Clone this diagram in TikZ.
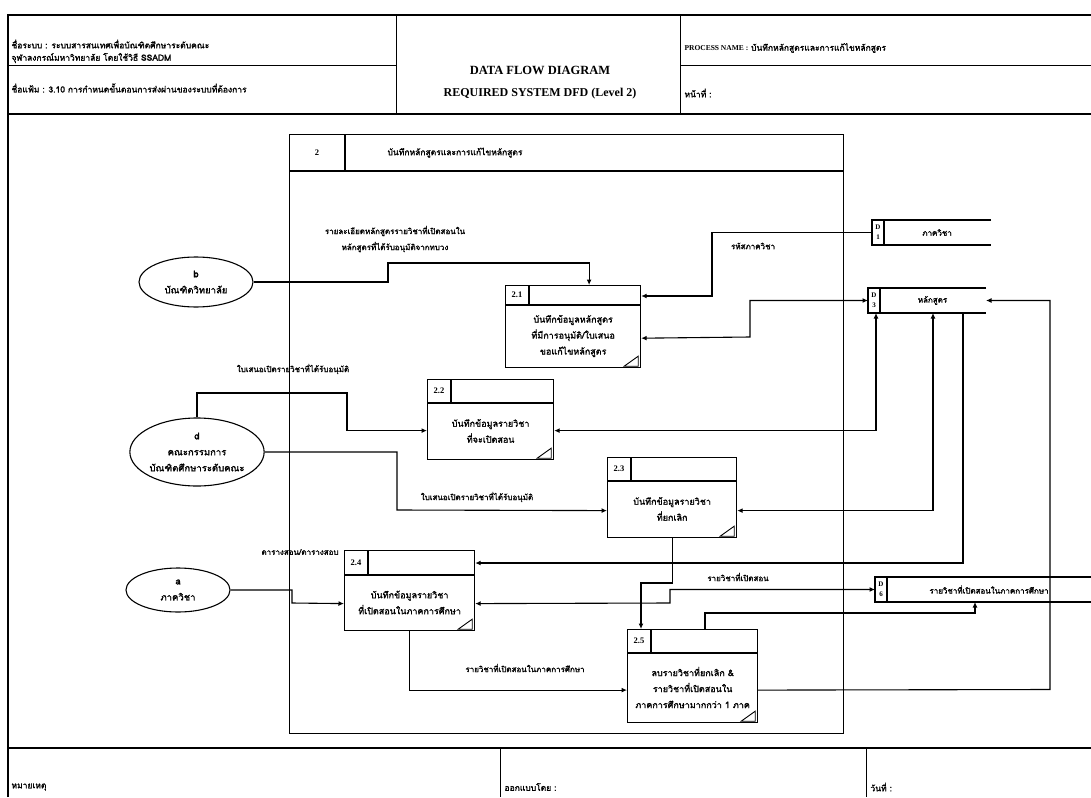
\documentclass[tikz,border=0pt]{standalone}
\usepackage{fontspec}
\setmainfont{Liberation Serif}
\newfontfamily\thaifont[Script=Thai, FakeBold=1.6]{Loma}
\usepackage{tikz}
\usetikzlibrary{calc}
\usetikzlibrary{shapes.geometric}
\usetikzlibrary{arrows.meta}

\tikzset{
  flow/.style = {line width = 1.1pt, -{Latex[length = 5.5pt, width = 5pt]}},
  flowboth/.style = {line width = 1.1pt, {Latex[length = 5.5pt, width = 5pt]}-{Latex[length = 5.5pt, width = 5pt]}},
  entity/.style = {draw, ellipse, line width = 1.1pt, inner sep = 0pt, align = center,
    font = \thaifont\fontsize{9.5}{16}\selectfont},
  procbox/.style = {draw, line width = 1.2pt, inner sep = 0pt, anchor = north west},
  lbl/.style = {font = \thaifont\fontsize{8}{16}\selectfont, inner sep = 1pt, align = center},
  ptext/.style = {font = \thaifont\fontsize{9}{16}\selectfont, inner sep = 0pt, align = center},
  pid/.style = {font = \bfseries\fontsize{8.5}{9}\selectfont, inner sep = 0pt},
  sid/.style = {font = \bfseries\fontsize{7}{7}\selectfont, inner sep = 0pt},
  hdr/.style = {font = \thaifont\fontsize{8.5}{9}\selectfont, inner sep = 0pt, anchor = west},
}

% process box: name, x, y, width, height, id, text, header height
\newcommand{\dfdproc}[8]{%
  \node[procbox, minimum width = #4pt, minimum height = #5pt] (#1) at (#2,#3) {};
  \draw[line width = 1.1pt] ($(#1.north west)+(0,#8)$) -- ($(#1.north east)+(0,#8)$);
  \draw[line width = 1.1pt] ($(#1.north west)+(24,0)$) -- ($(#1.north west)+(24,#8)$);
  \node[pid] (#1id) at ($(#1.north west)+(12,{#8/2})$) {#6};
  \node[ptext] (#1txt) at ($(#1.north)+(0,{(#5+#8)/2})$) {#7};
  \draw[line width = .9pt] ($(#1.south east)+(-17,-2)$) -- ($(#1.south east)+(-3,-12)$)
    -- ($(#1.south east)+(-3,-2)$) -- cycle;
}

% data store: name, x, y, width, number, text
\newcommand{\dfdstore}[6]{%
  \node[inner sep = 0pt, minimum width = #4pt, minimum height = 24pt, anchor = north west] (#1) at (#2,#3) {};
  \draw[line width = 1.2pt] (#1.north east) -- (#1.north west) -- (#1.south west) -- (#1.south east);
  \draw[line width = 1.1pt] ($(#1.north west)+(12,0)$) -- ($(#1.south west)+(12,0)$);
  \node[sid] (#1d) at ($(#1.north west)+(6,7)$) {D};
  \node[sid] (#1n) at ($(#1.north west)+(6,17.5)$) {#5};
  \node[lbl] (#1txt) at ($(#1.west)+({(#4+12)/2},0)$) {#6};
}

\begin{document}
\begin{tikzpicture}[x = 1pt, y = -1pt, line width = 1pt]
\useasboundingbox (0,0) rectangle (1091,797);

% frame
  \draw[line width = 1.4pt] (8,797) -- (8,15) -- (1091,15);
  \draw[line width = 1.4pt] (8,114) -- (1091,114);
  \draw (396,15) -- (396,114);
  \draw (680,15) -- (680,114);
  \draw (8,66) -- (396,66);
  \draw (680,66) -- (1091,66);
  \draw[line width = 1.4pt] (8,748) -- (1091,748);
  \draw (500,748) -- (500,797);
  \draw (866,748) -- (866,797);

% header
  \node[hdr] (sysname) at (11,44) {ชื่อระบบ : ระบบสารสนเทศเพื่อบัณฑิตศึกษาระดับคณะ};
  \node[hdr] (sysname2) at (11,58) {จุฬาลงกรณ์มหาวิทยาลัย โดยใช้วิธี SSADM};
  \node[hdr] (filename) at (11,88) {ชื่อแฟ้ม : 3.10 การกำหนดขั้นตอนการส่งผ่านของระบบที่ต้องการ};
  \node[font = \bfseries\fontsize{12.5}{14}\selectfont] (title) at (540,70) {DATA FLOW DIAGRAM};
  \node[font = \fontsize{12}{14}\selectfont] (subtitle) at (540,94) {\textbf{REQUIRED SYSTEM DFD (Level 2)}};
  \node[hdr] (procname) at (684,48) {{\rmfamily\bfseries\fontsize{7.5}{8}\selectfont PROCESS NAME :} บันทึกหลักสูตรและการแก้ไขหลักสูตร};
  \node[hdr] (page) at (684,93) {หน้าที่ :};
  \node[hdr] (remark) at (11,787) {หมายเหตุ};
  \node[hdr] (designer) at (504,787) {ออกแบบโดย :};
  \node[hdr] (date) at (870,787) {วันที่ :};

% process 2
  \node[procbox, minimum width = 554pt, minimum height = 599pt] (p2) at (289,134) {};
  \draw[line width = 1.1pt] ($(p2.north west)+(0,37)$) -- ($(p2.north east)+(0,37)$);
  \draw[line width = 1.1pt] ($(p2.north west)+(56,0)$) -- ($(p2.north west)+(56,37)$);
  \node[pid] (p2id) at ($(p2.north west)+(28,18.5)$) {2};
  \node[lbl, font = \thaifont\fontsize{8.5}{10}\selectfont] (p2name) at (455,152.5) {บันทึกหลักสูตรและการแก้ไขหลักสูตร};

% sub processes
  \dfdproc{p21}{505}{285}{135}{82}{2.1}{บันทึกข้อมูลหลักสูตร\\ที่มีการอนุมัติ/ใบเสนอ\\ขอแก้ไขหลักสูตร}{20}
  \dfdproc{p22}{427}{379}{126}{80}{2.2}{บันทึกข้อมูลรายวิชา\\ที่จะเปิดสอน}{24}
  \dfdproc{p23}{607}{457}{129}{80}{2.3}{บันทึกข้อมูลรายวิชา\\ที่ยกเลิก}{24}
  \dfdproc{p24}{344}{550}{130}{80}{2.4}{บันทึกข้อมูลรายวิชา\\ที่เปิดสอนในภาคการศึกษา}{25}
  \dfdproc{p25}{627}{629}{130}{93}{2.5}{ลบรายวิชาที่ยกเลิก \&\\รายวิชาที่เปิดสอนใน\\ภาคการศึกษามากกว่า 1 ภาค}{24}

% external entities
  \node[entity, minimum width = 114pt, minimum height = 50pt] (b) at (196,282) {b\\บัณฑิตวิทยาลัย};
  \node[entity, minimum width = 122pt, minimum height = 68pt] (d) at (197,452) {d\\คณะกรรมการ\\บัณฑิตศึกษาระดับคณะ};
  \node[entity, minimum width = 104pt, minimum height = 44pt] (a) at (178,590) {a\\ภาควิชา};

% data stores
  \dfdstore{d1}{872}{220}{118}{1}{ภาควิชา}
  \dfdstore{d3}{868}{288}{117}{3}{หลักสูตร}
  \dfdstore{d6}{875}{577}{216}{6}{รายวิชาที่เปิดสอนในภาคการศึกษา}

% flows
  \draw[flow] (b.east) -- (388,282) -- (388,263) -| ($(p21.north)+(16,0)$);
  \node[lbl] (f1) at (395,239) {รายละเอียดหลักสูตรรายวิชาที่เปิดสอนใน\\หลักสูตรที่ได้รับอนุมัติจากทบวง};
  \draw[flow] (d1.west) -| (712,296) -- ($(p21.north east)+(0,11)$);
  \node[lbl] (f2) at (753,246) {รหัสภาควิชา};
  \draw[flowboth] ($(p21.south east)+(0,-30)$) -- (750,337) |- (d3.west);
  \draw[flowboth] ($(d3.south west)+(8,0)$) |- ($(p22.east)+(0,11)$);
  \draw[flowboth] ($(d3.south west)+(65,0)$) |- ($(p23.east)+(0,13)$);
  \draw[flow] ($(d3.south west)+(95,0)$) |- ($(p24.north east)+(0,13)$);
  \draw[flow] ($(p25.east)+(0,14)$) -- (1050,689.5) |- (d3.east);

  \draw[flow] (d.north) |- (347,393) |- ($(p22.west)+(0,11)$);
  \node[lbl] (f3) at (293,369) {ใบเสนอเปิดรายวิชาที่ได้รับอนุมัติ};
  \draw[flow] (d.east) -| (397,510) -- ($(p23.west)+(0,13)$);
  \node[lbl] (f4) at (477,497) {ใบเสนอเปิดรายวิชาที่ได้รับอนุมัติ};
  \draw[flow] (a.east) -| (292,603) -- ($(p24.west)+(0,13)$);
  \node[lbl] (f5) at (300,552) {ตารางสอน/ตารางสอบ};

  \draw[flowboth] ($(p24.east)+(0,13)$) -- (670,603) |- (d6.west);
  \node[lbl] (f6) at (738,577) {รายวิชาที่เปิดสอน};
  \draw[flow] (p23.south) |- (641,583) -- ($(p25.north west)+(14,0)$);
  \draw[flow] ($(p25.north west)+(78,0)$) |- (975,613) -- ($(d6.south west)+(100,0)$);
  \draw[flow] (p24.south) |- ($(p25.west)+(0,14)$);
  \node[lbl] (f7) at (525,668) {รายวิชาที่เปิดสอนในภาคการศึกษา};

\end{tikzpicture}
\end{document}
